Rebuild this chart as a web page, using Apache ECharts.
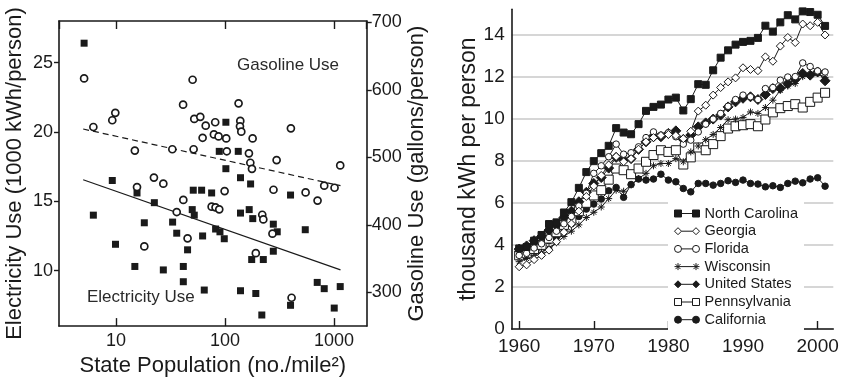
<!DOCTYPE html>
<html><head><meta charset="utf-8">
<script src="https://cdn.jsdelivr.net/npm/echarts@6/dist/echarts.min.js"></script>
<style>html,body{margin:0;padding:0;background:#fff}#c{width:844px;height:382px}</style>
</head><body><div id="c"></div>
<script>
const FONT = "'Liberation Sans', Arial, Helvetica, sans-serif";
const INK = '#1a1a1a';

// ---------- Left panel: state population density vs. use ----------
const elecDensity = [5.1, 6.2, 9.25, 9.9, 14.9, 15.6, 18.2, 22.5, 27.2, 33.1, 36.1, 41.5, 41.5, 45.4, 51.2, 61.1, 50.1, 52.3, 62.4, 75.5, 82.1, 90, 98.6, 64.6, 139, 102, 88.7, 132.5, 102, 139, 172, 167, 139, 180, 278, 302, 278, 176, 225, 192, 218, 400, 400, 546, 703, 815, 1007, 1143];
const elecUse =     [26.4, 14.0, 16.5, 11.9, 10.3, 15.6, 13.45, 14.9, 10.05, 13.5, 12.7, 10.3, 9.2, 11.5, 15.8, 15.8, 14.4, 14.0, 12.5, 15.6, 13.0, 12.8, 12.3, 8.6, 8.55, 20.7, 18.6, 18.6, 17.35, 16.7, 16.25, 14.4, 14.15, 13.75, 13.35, 12.8, 11.4, 10.8, 10.8, 8.35, 6.8, 7.5, 15.45, 12.95, 9.15, 8.7, 7.3, 8.85];
const gasDensity = [5.1, 6.2, 9.25, 9.86, 14.9, 15.6, 18.2, 22.3, 27.2, 32.9, 36.1, 41.5, 41.3, 45.4, 50.5, 52.3, 51.6, 59.4, 66.6, 62.4, 81.4, 79.2, 87.4, 102.8, 104, 99.3, 75.5, 82, 88.7, 133.4, 138.3, 137.4, 141.3, 179.5, 166, 171, 177, 220, 225, 192, 279, 298, 273, 403, 409, 550, 708, 815, 1014, 1143];
const gasUse =     [617, 545, 555, 566, 510, 456, 368, 470, 461, 512, 419, 437, 578, 380, 615, 557, 512, 560, 547, 529, 552, 534, 531, 528, 509, 450, 427, 426, 423, 580, 554, 546, 538, 528, 506, 492, 483, 415, 408, 358, 452, 496, 387, 543, 292, 448, 436, 458, 455, 488];
const fitDensity = [5, 1150];
const elecFit = [16.55, 10.05];
const gasFit = [542, 458];
const popTicks = [10, 100, 1000];
const elecTicks = [10, 15, 20, 25];
const gasTicks = [300, 400, 500, 600, 700];

// ---------- Right panel: electricity use per person ----------
const years = [1960,1961,1962,1963,1964,1965,1966,1967,1968,1969,1970,1971,1972,1973,1974,1975,1976,1977,1978,1979,1980,1981,1982,1983,1984,1985,1986,1987,1988,1989,1990,1991,1992,1993,1994,1995,1996,1997,1998,1999,2000,2001];
const northCarolina = [3.83,3.9,4.2,4.47,4.99,5.07,5.54,6.03,6.71,7.46, 7.98,8.36,8.71,9.55,9.34,9.26,9.74,10.37,10.56,10.67, 10.91,11.0,10.39,10.93,11.64,11.61,12.3,12.9,13.25,13.52, 13.65,13.7,13.84,14.42,14.14,14.58,14.92,14.72,15.1,15.07, 14.94,14.41];
const georgia = [2.96,3.05,3.3,3.5,3.75,4.15,4.6,5.0,5.6,6.3, 6.8,7.3,7.8,8.2,7.95,8.1,8.55,8.9,9.1,9.2, 9.25,9.2,9.05,9.4,10.36,10.64,11.12,11.48,11.75,11.94, 12.42,12.34,12.28,12.94,12.73,13.45,13.86,13.62,14.5,14.42, 14.58,13.98];
const florida = [3.5,3.6,3.85,4.05,4.35,4.65,5.0,5.35,5.85,6.45, 7.4,7.76,8.19,8.79,8.31,8.38,8.66,9.1,9.37,9.22, 9.33,9.14,8.79,8.98,9.37,9.74,9.98,10.25,10.59,10.91, 11.12,11.04,10.91,11.43,11.48,11.83,11.98,12.0,12.65,12.48, 12.27,12.22];
const wisconsin = [3.2,3.35,3.5,3.65,3.85,4.1,4.4,4.65,4.95,5.3, 5.55,5.8,6.2,6.6,6.55,6.85,7.15,7.4,7.76,7.87, 7.87,8.1,7.95,8.42,8.7,9.0,9.25,9.58,9.95,9.98, 10.06,10.32,10.25,10.53,10.88,11.35,11.55,11.67,12.0,12.07, 12.15,11.95];
const unitedStates = [3.8,3.95,4.2,4.4,4.7,4.95,5.3,5.6,6.05,6.5, 6.92,7.2,7.65,8.16,8.03,8.1,8.54,8.9,9.14,9.14, 9.3,9.42,9.01,9.22,9.61,9.8,9.98,10.17,10.56,10.8, 10.97,11.04,10.91,11.15,11.43,11.45,11.67,11.86,12.15,12.07, 12.22,11.8];
const pennsylvania = [3.5,3.6,3.8,4.0,4.3,4.6,4.95,5.2,5.6,6.0, 6.35,6.6,7.1,7.63,7.55,7.36,7.63,7.95,8.27,8.5, 8.42,8.5,7.82,8.16,8.63,8.5,8.79,9.17,9.53,9.64, 9.69,9.74,9.64,9.96,10.3,10.5,10.6,10.69,10.53,10.8, 11.0,11.23];
const california = [3.6,3.7,3.85,4.0,4.2,4.4,4.7,5.0,5.35,5.7, 5.94,6.18,6.57,6.73,6.26,6.87,7.13,7.08,7.13,7.36, 7.08,7.0,6.68,6.52,6.92,6.92,6.84,6.92,7.05,6.97, 7.08,6.92,6.89,6.76,6.81,6.73,6.92,7.03,6.95,7.13, 7.19,6.79];
const yearTicks = [1960, 1970, 1980, 1990, 2000];
const kwhTicks = [0, 2, 4, 6, 8, 10, 12, 14];

const zip = (xs, ys) => xs.map((x, i) => [x, ys[i]]);

const ASTER = 'path://M0,5L10,5M5,0L5,10M1.5,1.5L8.5,8.5M1.5,8.5L8.5,1.5';
const stateDefs = [
  { name: 'North Carolina', data: northCarolina, symbol: 'rect', size: 7, fill: INK,
    icon: 'path://M0,0H7V7H0ZM7,3.5H18M18,0H25V7H18Z' },
  { name: 'Georgia', data: georgia, symbol: 'diamond', size: 8, fill: '#fff',
    icon: 'path://M3.5,0L7,3.5L3.5,7L0,3.5ZM7,3.5H18M21.5,0L25,3.5L21.5,7L18,3.5Z' },
  { name: 'Florida', data: florida, symbol: 'circle', size: 6.5, fill: '#fff',
    icon: 'path://M0,3.5A3.5,3.5,0,1,1,7,3.5A3.5,3.5,0,1,1,0,3.5ZM7,3.5H18M18,3.5A3.5,3.5,0,1,1,25,3.5A3.5,3.5,0,1,1,18,3.5Z' },
  { name: 'Wisconsin', data: wisconsin, symbol: ASTER, size: 7, fill: INK,
    icon: 'path://M0,3.5H25M3.5,0V7M1,1L6,6M1,6L6,1M21.5,0V7M19,1L24,6M19,6L24,1' },
  { name: 'United States', data: unitedStates, symbol: 'diamond', size: 10, fill: INK,
    icon: 'path://M3.5,0L7,3.5L3.5,7L0,3.5ZM7,3.5H18M21.5,0L25,3.5L21.5,7L18,3.5Z' },
  { name: 'Pennsylvania', data: pennsylvania, symbol: 'rect', size: 9, fill: '#fff',
    icon: 'path://M0,0H7V7H0ZM7,3.5H18M18,0H25V7H18Z' },
  { name: 'California', data: california, symbol: 'circle', size: 6.5, fill: INK,
    icon: 'path://M0,3.5A3.5,3.5,0,1,1,7,3.5A3.5,3.5,0,1,1,0,3.5ZM7,3.5H18M18,3.5A3.5,3.5,0,1,1,25,3.5A3.5,3.5,0,1,1,18,3.5Z' }
];

const axisLine = { show: true, onZero: false, lineStyle: { color: INK, width: 1.6 } };
const tickLine = { color: INK, width: 1.4 };
const labelBase = { color: INK, fontFamily: FONT, fontSize: 18 };
const nameBase = { color: INK, fontFamily: FONT, fontSize: 22 };

const chart = echarts.init(document.getElementById('c'), null, { renderer: 'canvas' });
chart.setOption({
  animation: false,
  backgroundColor: '#fff',
  textStyle: { fontFamily: FONT },
  grid: [
    { left: 59, right: 477.3, top: 21, bottom: 52 },
    { left: 511.7, right: 10.7, top: 9.3, bottom: 53 }
  ],
  xAxis: [
    { type: 'log', gridIndex: 0, position: 'bottom', min: 3, max: 2000, logBase: 10,
      axisLine: axisLine,
      axisTick: { inside: true, length: 8, lineStyle: tickLine },
      axisLabel: Object.assign({}, labelBase, { margin: 6, showMinLabel: false, showMaxLabel: false,
        formatter: v => popTicks.includes(Math.round(v)) ? String(Math.round(v)) : '' }),
      splitLine: { show: false },
      name: 'State Population (no./mile²)', nameLocation: 'middle', nameGap: 26,
      nameTextStyle: nameBase },
    { type: 'log', gridIndex: 0, position: 'top', min: 3, max: 2000, logBase: 10,
      axisLine: axisLine,
      axisTick: { inside: true, length: 8, lineStyle: tickLine },
      axisLabel: { show: false },
      splitLine: { show: false } },
    { type: 'value', gridIndex: 1, min: 1959, max: 2002.1,
      axisLine: axisLine,
      axisTick: { inside: true, length: 8, lineStyle: tickLine, customValues: yearTicks },
      axisLabel: Object.assign({}, labelBase, { fontSize: 19, margin: 8, customValues: yearTicks,
        formatter: v => String(Math.round(v)) }),
      splitLine: { show: false } }
  ],
  yAxis: [
    { type: 'value', gridIndex: 0, position: 'left', min: 6, max: 28,
      axisLine: axisLine,
      axisTick: { inside: false, length: 5, lineStyle: tickLine, customValues: elecTicks },
      axisLabel: Object.assign({}, labelBase, { margin: 6, customValues: elecTicks }),
      splitLine: { show: false },
      name: 'Electricity Use (1000 kWh/person)', nameLocation: 'middle', nameGap: 33,
      nameTextStyle: nameBase },
    { type: 'value', gridIndex: 0, position: 'right', min: 250, max: 702,
      axisLine: axisLine,
      axisTick: { inside: false, length: 5, lineStyle: tickLine, customValues: gasTicks },
      axisLabel: Object.assign({}, labelBase, { margin: 5, customValues: gasTicks }),
      splitLine: { show: false },
      name: 'Gasoline Use (gallons/person)', nameLocation: 'middle', nameGap: 28,
      nameTextStyle: nameBase },
    { type: 'value', gridIndex: 1, min: 0, max: 15.2,
      axisLine: axisLine,
      axisTick: { show: false, customValues: kwhTicks },
      axisLabel: Object.assign({}, labelBase, { fontSize: 19, margin: 7, customValues: kwhTicks }),
      splitLine: { show: true, lineStyle: { color: '#c9c9c9', width: 1.5 } },
      name: 'thousand kWh per person', nameLocation: 'middle', nameGap: 30,
      nameTextStyle: Object.assign({}, nameBase, { fontSize: 23 }) }
  ],
  legend: {
    orient: 'vertical', left: 668, top: 202,
    padding: [4, 6, 3, 6], backgroundColor: '#fff',
    itemWidth: 25, itemHeight: 7, itemGap: 2.7,
    textStyle: { color: INK, fontFamily: FONT, fontSize: 14.5, lineHeight: 14 },
    data: stateDefs.map(d => ({
      name: d.name, icon: d.icon,
      itemStyle: { color: d.fill, borderColor: INK, borderWidth: 1 }
    })),
    z: 10
  },
  graphic: [
    { type: 'text', left: 237, top: 57, z: 20,
      style: { text: 'Gasoline Use', fill: '#2a2a2a', font: '17px ' + FONT } },
    { type: 'text', left: 87, top: 289, z: 20,
      style: { text: 'Electricity Use', fill: '#2a2a2a', font: '17px ' + FONT } }
  ],
  series: [
    { type: 'scatter', name: 'elec', xAxisIndex: 0, yAxisIndex: 0,
      data: zip(elecDensity, elecUse), symbol: 'rect', symbolSize: 7,
      itemStyle: { color: INK, opacity: 1 }, silent: true, z: 3 },
    { type: 'scatter', name: 'gas', xAxisIndex: 0, yAxisIndex: 1,
      data: zip(gasDensity, gasUse), symbol: 'circle', symbolSize: 7,
      itemStyle: { color: '#fff', borderColor: INK, borderWidth: 1.7, opacity: 1 }, silent: true, z: 3 },
    { type: 'line', name: 'elecFit', xAxisIndex: 0, yAxisIndex: 0,
      data: zip(fitDensity, elecFit), showSymbol: false, silent: true,
      lineStyle: { color: INK, width: 1.2 }, z: 2 },
    { type: 'line', name: 'gasFit', xAxisIndex: 0, yAxisIndex: 1,
      data: zip(fitDensity, gasFit), showSymbol: false, silent: true,
      lineStyle: { color: INK, width: 1.2, type: [6, 4] }, z: 2 }
  ].concat(stateDefs.slice().reverse().map(d => ({
    type: 'line', name: d.name, xAxisIndex: 2, yAxisIndex: 2,
    data: zip(years, d.data), symbol: d.symbol, symbolSize: d.size, showSymbol: true,
    color: d.fill,
    itemStyle: { color: d.fill, borderColor: INK, borderWidth: 1, opacity: 1 },
    lineStyle: { color: INK, width: 1 },
    silent: true
  })))
});
</script>
</body></html>
